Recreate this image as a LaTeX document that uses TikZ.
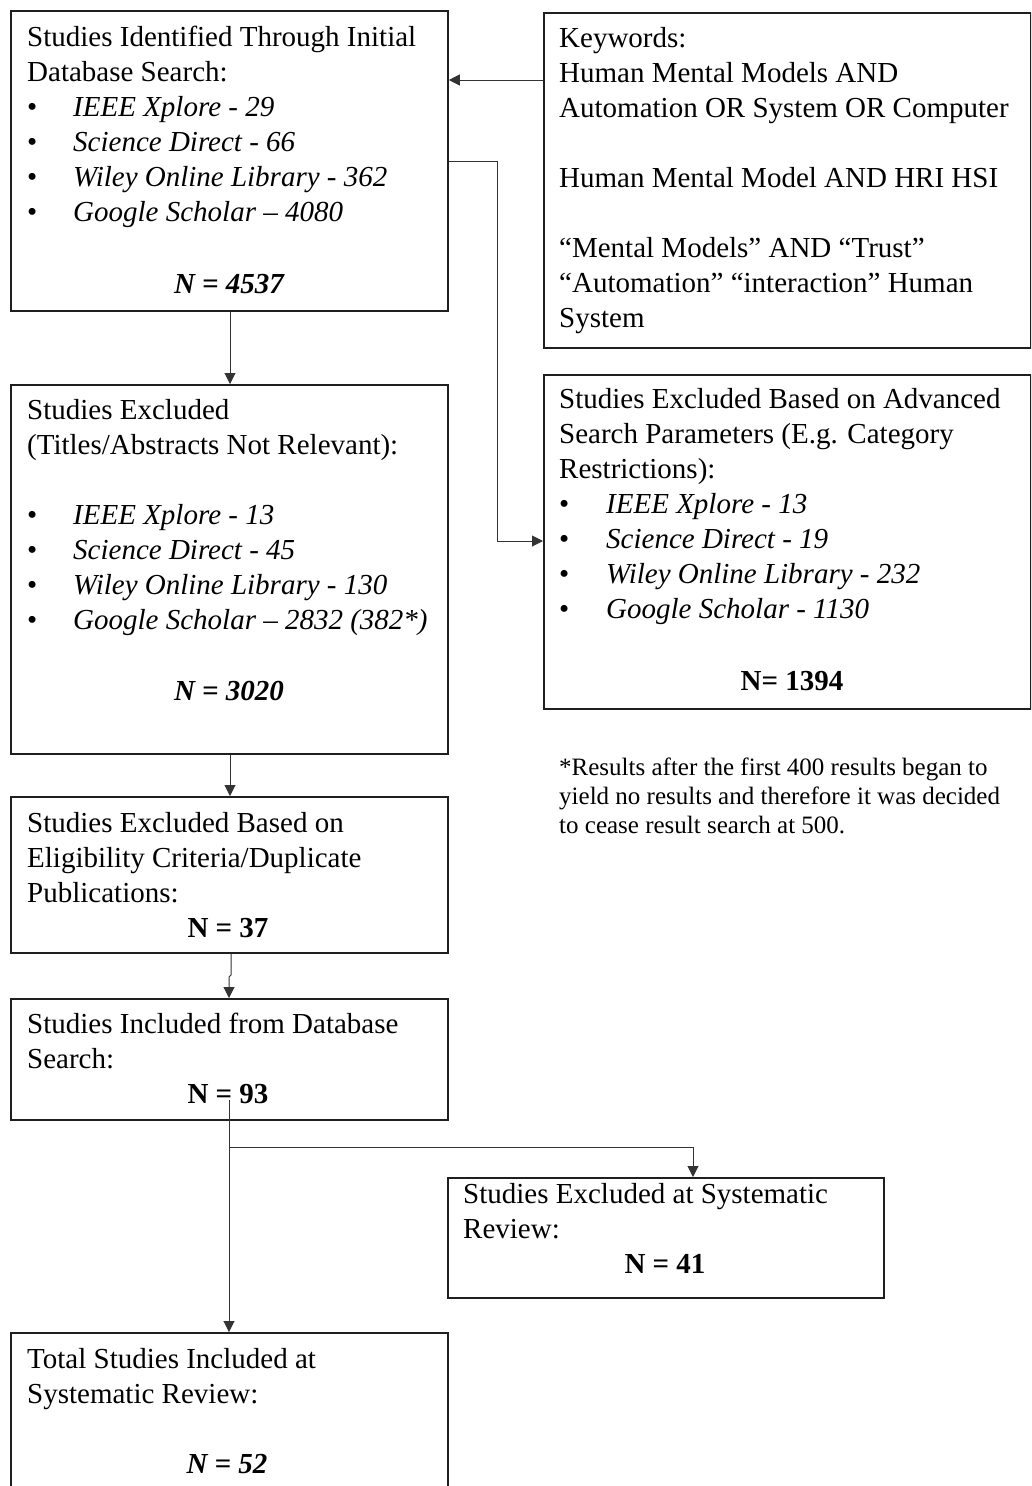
\documentclass[tikz,border=0pt]{standalone}
\usepackage{fontspec}
\setmainfont{Liberation Serif}
\usetikzlibrary{arrows.meta}
\newcommand\msize{\fontsize{29}{35}\selectfont}
\newcommand\fsize{\fontsize{25}{29}\selectfont}
\begin{document}
\begin{tikzpicture}[x=1pt,y=-1pt,
  box/.style={draw=black!88, line width=1.8pt, inner sep=0pt, anchor=north west},
  txt/.style={anchor=base west, inner sep=0pt, font=\msize},
  ctr/.style={anchor=base, inner sep=0pt, font=\msize},
  note/.style={anchor=base west, inner sep=0pt, font=\fsize},
  conn/.style={draw=black!80, line width=1pt},
  arr/.style={conn, -{Triangle[length=11pt,width=11pt]}}]
\useasboundingbox (0,0) rectangle (1031,1486);
\clip (0,0) rectangle (1031,1486);
% boxes
\node[box, minimum width=437pt, minimum height=300pt] (b1) at (10,10) {};
\node[box, minimum width=487pt, minimum height=335pt] (kw) at (543,12) {};
\node[box, minimum width=437pt, minimum height=369pt] (b2) at (10,384) {};
\node[box, minimum width=487pt, minimum height=334pt] (adv) at (543,374) {};
\node[box, minimum width=437pt, minimum height=156pt] (b3) at (10,796) {};
\node[box, minimum width=437pt, minimum height=121pt] (b4) at (10,998) {};
\node[box, minimum width=436pt, minimum height=120pt] (b5) at (447,1177) {};
\node[box, minimum width=437pt, minimum height=200pt] (b6) at (10,1332) {};
% box 1 text
\node[txt] (b1l1) at (27,46) {Studies Identified Through Initial};
\node[txt] (b1l2) at (27,81) {Database Search:};
\node[txt] (b1d1) at (27,116) {•};
\node[txt] (b1d2) at (27,151) {•};
\node[txt] (b1d3) at (27,186) {•};
\node[txt] (b1d4) at (27,221) {•};
\node[txt] (b1i1) at (73,116) {\itshape IEEE Xplore - 29};
\node[txt] (b1i2) at (73,151) {\itshape Science Direct - 66};
\node[txt] (b1i3) at (73,186) {\itshape Wiley Online Library - 362};
\node[txt] (b1i4) at (73,221) {\itshape Google Scholar – 4080};
\node[ctr] (b1n) at (229,293) {\bfseries\itshape N = 4537};
% keywords text
\node[txt] (kw1) at (559,47) {Keywords:};
\node[txt] (kw2) at (559,82) {Human Mental Models AND};
\node[txt] (kw3) at (559,117) {Automation OR System OR Computer};
\node[txt] (kw4) at (559,187) {Human Mental Model AND HRI HSI};
\node[txt] (kw5) at (559,257) {“Mental Models” AND “Trust”};
\node[txt] (kw6) at (559,292) {“Automation” “interaction” Human};
\node[txt] (kw7) at (559,327) {System};
% advanced box text
\node[txt] (a1) at (559,408) {Studies Excluded Based on Advanced};
\node[txt] (a2) at (559,443) {Search Parameters (E.g. Category};
\node[txt] (a3) at (559,478) {Restrictions):};
\node[txt] (ad1) at (559,513) {•};
\node[txt] (ad2) at (559,548) {•};
\node[txt] (ad3) at (559,583) {•};
\node[txt] (ad4) at (559,618) {•};
\node[txt] (ai1) at (606,513) {\itshape IEEE Xplore - 13};
\node[txt] (ai2) at (606,548) {\itshape Science Direct - 19};
\node[txt] (ai3) at (606,583) {\itshape Wiley Online Library - 232};
\node[txt] (ai4) at (606,618) {\itshape Google Scholar - 1130};
\node[ctr] (an) at (792,690) {\bfseries N= 1394};
% box 2 text
\node[txt] (b2l1) at (27,419) {Studies Excluded};
\node[txt] (b2l2) at (27,454) {(Titles/Abstracts Not Relevant):};
\node[txt] (b2d1) at (27,524) {•};
\node[txt] (b2d2) at (27,559) {•};
\node[txt] (b2d3) at (27,594) {•};
\node[txt] (b2d4) at (27,629) {•};
\node[txt] (b2i1) at (73,524) {\itshape IEEE Xplore - 13};
\node[txt] (b2i2) at (73,559) {\itshape Science Direct - 45};
\node[txt] (b2i3) at (73,594) {\itshape Wiley Online Library - 130};
\node[txt] (b2i4) at (73,629) {\itshape Google Scholar – 2832 (382*)};
\node[ctr] (b2n) at (229,700) {\bfseries\itshape N = 3020};
% footnote
\node[note] (fn1) at (559,775) {*Results after the first 400 results began to};
\node[note] (fn2) at (559,804) {yield no results and therefore it was decided};
\node[note] (fn3) at (559,833) {to cease result search at 500.};
% box 3 text
\node[txt] (b3l1) at (27,832) {Studies Excluded Based on};
\node[txt] (b3l2) at (27,867) {Eligibility Criteria/Duplicate};
\node[txt] (b3l3) at (27,902) {Publications:};
\node[ctr] (b3n) at (228,937) {\bfseries N = 37};
% box 4 text
\node[txt] (b4l1) at (27,1033) {Studies Included from Database};
\node[txt] (b4l2) at (27,1068) {Search:};
\node[ctr] (b4n) at (228,1103) {\bfseries N = 93};
% box 5 text
\node[txt] (b5l1) at (463,1203) {Studies Excluded at Systematic};
\node[txt] (b5l2) at (463,1238) {Review:};
\node[ctr] (b5n) at (665,1273) {\bfseries N = 41};
% box 6 text
\node[txt] (b6l1) at (27,1368) {Total Studies Included at};
\node[txt] (b6l2) at (27,1403) {Systematic Review:};
\node[ctr] (b6n) at (227,1473) {\bfseries\itshape N = 52};
% helper coordinates
\coordinate (y80) at (0,80);
\coordinate (y161) at (0,161);
\coordinate (elb) at (497,541);
\coordinate (x230) at (230,0);
\coordinate (j1) at (231,975);
\coordinate (j2) at (229,977);
\coordinate (s4) at (229,1100);
\coordinate (j) at (229,1147);
\coordinate (x693) at (693,0);
% connectors
\draw[arr] (kw.west |- y80) -- (b1.east |- y80);
\draw[arr] (b1.east |- y161) -- (elb |- y161) -- (elb) -- (adv.west |- elb);
\draw[arr] (b1.south -| x230) -- (b2.north -| x230);
\draw[arr] (b2.south -| x230) -- (b3.north -| x230);
\draw[arr] (b3.south -| j1) -- (j1) -- (j2) -- (b4.north -| j2);
\draw[arr] (s4) -- (b6.north -| s4);
\draw[arr] (j) -| (b5.north -| x693);
\end{tikzpicture}
\end{document}
